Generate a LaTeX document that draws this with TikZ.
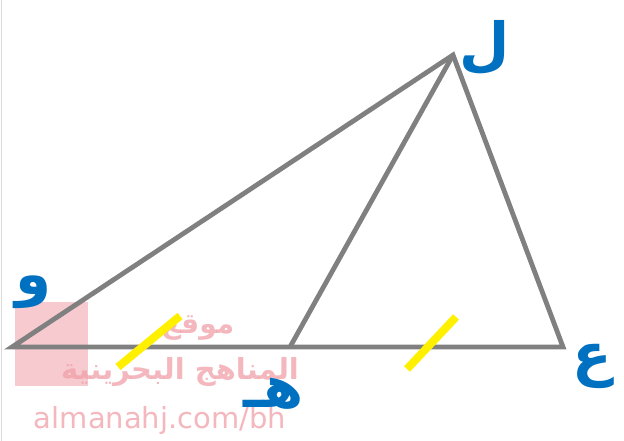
\documentclass[tikz,border=0pt]{standalone}
\usepackage{fontspec}
\TeXXeTstate=1
\newfontfamily\arabicfont[Script=Arabic]{DejaVu Sans}
\setsansfont{DejaVu Sans}
\definecolor{lblue}{RGB}{0,112,192}
\definecolor{edgegray}{RGB}{128,128,128}
\definecolor{tickyellow}{RGB}{255,240,0}
\definecolor{wmpink}{RGB}{240,160,168}
\tikzset{
  edge/.style={draw=edgegray, line width=4.8pt, line join=miter},
  tickmark/.style={draw=tickyellow, line width=8pt},
  lbl/.style={text=lblue, font=\arabicfont\bfseries\fontsize{58}{58}\selectfont, inner sep=0pt},
  wm/.style={text=wmpink, opacity=0.75, inner sep=0pt}
}
\begin{document}
\begin{tikzpicture}[x=1pt,y=-1pt]
\useasboundingbox (0,0) rectangle (624,441);
\fill[white] (0,0) rectangle (624,441);
\draw[gray!30, line width=1pt] (1,0) -- (1,441);
% watermark
\fill[wmpink, opacity=0.55] (15,302) rectangle (88,386);
\node[wm, font=\arabicfont\bfseries\fontsize{28}{28}\selectfont] (wm1) at (198,328) {\beginR موقع\endR};
\node[wm, font=\arabicfont\bfseries\fontsize{29}{29}\selectfont] (wm2) at (180,372) {\beginR المناهج البحرينية\endR};
\node[wm, font=\sffamily\fontsize{29}{29}\selectfont] (wm3) at (160,420) {almanahj.com/bh};
% vertices
\coordinate (W) at (12,347);
\coordinate (L) at (453,55);
\coordinate (A) at (563,347);
\coordinate (H) at (290,347);
\draw[edge] (W) -- (L) -- (A) -- cycle;
\draw[edge] (H) -- (L);
% tick marks
\coordinate (t1a) at (118,367);
\coordinate (t1b) at (180,316);
\coordinate (t2a) at (407,369);
\coordinate (t2b) at (456,317);
\draw[tickmark] (t1a) -- (t1b);
\draw[tickmark] (t2a) -- (t2b);
% labels
\node[lbl] (lW) at (34,292) {\beginR و\endR};
\node[lbl] (lL) at (485,48) {\beginR ل\endR};
\node[lbl] (lA) at (592,366) {\beginR ع\endR};
\node[lbl] (lH) at (274,394) {\beginR هـ\endR};
\end{tikzpicture}
\end{document}
